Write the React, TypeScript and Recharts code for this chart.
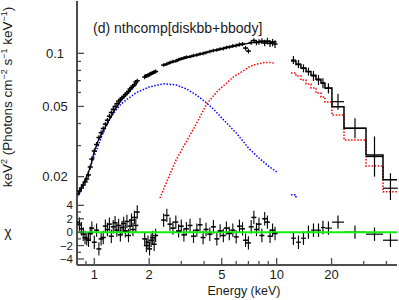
import React from "react";
import { ComposedChart, Line, Scatter, XAxis, YAxis, ErrorBar, ReferenceLine } from "recharts";

const FRAME = "#4d4d4d";
const INK = "#1a1a1a";
const FONT = "'Liberation Sans', Arial, Helvetica, sans-serif";
const W = 399;

// axes
const xDomain = [0.804, 45.7];
const xTicks = [0.9, 1, 2, 3, 4, 5, 6, 7, 8, 9, 10, 20, 30, 40];
const xLabels = [1, 2, 5, 10, 20];
const yDomain = [0.01514, 0.1979];
const yTicks = [0.02, 0.03, 0.04, 0.05, 0.06, 0.07, 0.08, 0.09, 0.1];
const yLabels = [0.02, 0.05, 0.1];
const rDomain = [-4.9, 5.1];
const rTicks = [-4, -3, -2, -1, 0, 1, 2, 3, 4];
const rLabels = [-4, -2, 0, 2, 4];

// XIS spectrum, keV2 (photons cm-2 s-1 keV-1)
const xisEnergy = [
  0.81, 0.83, 0.85, 0.87, 0.89, 0.91, 0.93, 0.95, 0.97, 1.0, 1.03, 1.06, 1.09, 1.12, 1.15, 1.18, 1.21,
  1.24, 1.27, 1.3, 1.33, 1.36, 1.39, 1.42, 1.45, 1.48, 1.51, 1.54, 1.57, 1.6, 1.63, 1.66, 1.69, 1.72,
  1.89, 1.93, 1.97, 2.01, 2.05, 2.09, 2.13, 2.17,
  2.4, 2.5, 2.6, 2.7, 2.8, 2.9, 3.0, 3.1, 3.2, 3.35, 3.5, 3.65, 3.8, 3.95, 4.1, 4.3, 4.5, 4.7, 4.9,
  5.1, 5.3, 5.5, 5.75, 6.0, 6.25, 6.5, 6.75, 7.0, 7.25, 7.5, 7.75, 8.0, 8.3, 8.6, 8.9, 9.2, 9.5, 9.8,
];
const xisFlux = [
  0.01595, 0.01659, 0.01725, 0.01794, 0.01866, 0.0194, 0.02045, 0.02269, 0.02518, 0.02796, 0.03043,
  0.03334, 0.03549, 0.0375, 0.03966, 0.04178, 0.04401, 0.04619, 0.04816, 0.05001, 0.05188, 0.05366,
  0.05479, 0.05588, 0.05706, 0.05834, 0.05949, 0.0609, 0.06276, 0.064, 0.06527, 0.06648, 0.06878, 0.06996,
  0.0734, 0.0744, 0.0749, 0.0759, 0.0769, 0.0774, 0.0784, 0.0789,
  0.0858, 0.087, 0.0887, 0.0899, 0.0905, 0.0922, 0.0934, 0.0941, 0.0953, 0.0959, 0.0972, 0.0978, 0.0991,
  0.0997, 0.101, 0.1024, 0.1037, 0.1044, 0.1058, 0.1065, 0.1079, 0.1086, 0.11, 0.1107, 0.1122, 0.1129,
  0.1071, 0.103, 0.1151, 0.1182, 0.1151, 0.1159, 0.1174, 0.1144, 0.1174, 0.1137, 0.1151, 0.1129,
];
const xisFluxErr = [
  0.0006, 0.0006, 0.0006, 0.0006, 0.0006, 0.0007, 0.0007, 0.0007, 0.0008, 0.0009, 0.001, 0.001,
  0.0011, 0.0011, 0.0012, 0.0012, 0.0013, 0.0013, 0.0014, 0.0014, 0.0014, 0.0015, 0.0015, 0.0015,
  0.0015, 0.0016, 0.0016, 0.0016, 0.0017, 0.0017, 0.0017, 0.0018, 0.0018, 0.0018,
  0.002, 0.002, 0.002, 0.002, 0.002, 0.002, 0.002, 0.002,
  0.002, 0.002, 0.002, 0.002, 0.002, 0.002, 0.002, 0.002, 0.002, 0.002, 0.0022, 0.0022, 0.0022, 0.0022,
  0.0022, 0.0024, 0.0024, 0.0024, 0.0024, 0.0026, 0.0026, 0.0026, 0.0028, 0.0028, 0.003, 0.003, 0.0032,
  0.0032, 0.0034, 0.0036, 0.004, 0.0042, 0.0045, 0.0048, 0.005, 0.0052, 0.0055, 0.0058,
];
const xisResid = [
  1.5, 1.2, 0.5, -0.3, -0.8, -1.0, -1.2, -0.2, 0.6, -1.5, 0.3, -2.5, -1.0, -0.8, 0.9, 0.4, 1.2, -0.6,
  0.8, 1.4, 0.3, 1.0, -0.4, 0.7, 1.3, 0.2, 1.6, -0.5, 0.9, 1.8, 0.4, 2.2, 1.0, 3.0,
  -1.0, -2.0, -1.5, -2.5, -1.2, -0.8, -1.8, -0.5,
  1.8, 2.5, 1.2, 0.6, 1.5, 0.2, 0.9, -0.4, 0.5, 1.0, -0.6, 0.3, 1.1, -0.8, 0.4, -0.3, 0.8, -1.0, 0.2,
  -0.5, 0.6, -0.2, 0.3, -0.7, 0.9, 0.5, -1.2, -1.6, 0.8, 2.2, 0.4, 1.2, -0.5, 2.0, 1.5, -0.6, 0.3, -0.2,
];

// XIS total model (null = ignored band)
const modelEnergy = [
  0.81, 0.85, 0.9, 0.95, 1.0, 1.05, 1.1, 1.2, 1.3, 1.4, 1.5, 1.6, 1.72, 1.8, 1.88, 2.0, 2.19, 2.28,
  2.37, 2.6, 3.0, 3.5, 4.0, 4.5, 5.0, 5.5, 6.0, 6.5, 7.0, 7.5, 8.0, 9.0, 10.0,
];
const modelFlux = [
  0.016, 0.0173, 0.0195, 0.0225, 0.0278, 0.032, 0.0352, 0.0415, 0.048, 0.0538, 0.0585, 0.0625, 0.068,
  null, 0.075, 0.0765, 0.0795, null, 0.0855, 0.088, 0.0925, 0.0965, 0.1005, 0.1035, 0.106, 0.1085,
  0.1105, 0.1125, 0.114, 0.1152, 0.116, 0.1165, 0.116,
];

// diskbb component (blue)
const diskEnergy = [
  0.82, 0.9, 1.0, 1.1, 1.2, 1.3, 1.4, 1.5, 1.7, 2.0, 2.4, 2.8, 3.2, 3.6, 4.0, 4.5, 5.0, 6.0, 7.0, 8.0,
  9.0, 10.0,
];
const diskFlux = [
  0.0157, 0.0195, 0.0262, 0.034, 0.0412, 0.047, 0.0515, 0.0546, 0.0598, 0.0645, 0.0672, 0.0663, 0.0628,
  0.0584, 0.0537, 0.0484, 0.043, 0.0354, 0.0291, 0.0255, 0.023, 0.0213,
];

// bbody component (red)
const bbEnergy = [
  2.29, 2.44, 2.6, 2.81, 3.01, 3.35, 3.72, 4.13, 4.69, 5.1, 5.78, 6.29, 7.14, 7.77, 8.63, 9.19, 9.79,
];
const bbFlux = [
  0.0151, 0.0177, 0.0207, 0.0249, 0.0283, 0.0344, 0.0419, 0.0516, 0.0604, 0.0653, 0.0734, 0.0774,
  0.0842, 0.087, 0.0887, 0.0887, 0.0878,
];

// HXD/PIN + GSO spectrum
const hxdEdges = [11.98, 12.76, 13.59, 14.48, 15.42, 16.43, 17.5, 18.4, 20.1, 23.4, 30.9, 38.3, 46.2];
const hxdEnergy = [12.36, 13.17, 14.03, 14.94, 15.92, 16.96, 17.94, 19.23, 21.69, 26.89, 34.4, 42.07];
const hxdFlux = [0.0916, 0.087, 0.0822, 0.0787, 0.0744, 0.0706, 0.0676, 0.0633, 0.0532, 0.0376, 0.026, 0.0172];
const hxdFluxLo = [0.0047, 0.0045, 0.0042, 0.004, 0.0047, 0.0045, 0.0043, 0.004, 0.0053, 0.0046, 0.006, 0.0031];
const hxdFluxHi = [0.0049, 0.0047, 0.0044, 0.0042, 0.005, 0.0048, 0.0046, 0.0043, 0.0058, 0.0052, 0.0078, 0.0037];
const hxdResid = [-0.9, -1.5, -0.9, 0, 0.3, 0.3, 0.7, 0.6, 1.5, 0, -0.3, -1.2];
const hxdModel = [0.0905, 0.0865, 0.0825, 0.079, 0.075, 0.0712, 0.0678, 0.0635, 0.0498, 0.0376, 0.0265, 0.0192];
const hxdBbody = [0.0774, 0.0744, 0.0706, 0.067, 0.0636, 0.0596, 0.0565, 0.053, 0.0447, 0.0323, 0.023, 0.0164];
const hxdDisk = [0.0158, 0.015];

const xisPoints = xisEnergy.map((e, i) => ({ e, f: xisFlux[i], fe: xisFluxErr[i] }));
const xisRes = xisEnergy.map((e, i) => ({ e, r: xisResid[i], re: 1 }));
const modelLine = modelEnergy.map((e, i) => ({ e, f: modelFlux[i] }));
const diskLine = diskEnergy.map((e, i) => ({ e, f: diskFlux[i] }));
const bbLine = bbEnergy.map((e, i) => ({ e, f: bbFlux[i] }));
const hxdXErr = hxdEnergy.map((e, i) => [e - hxdEdges[i], hxdEdges[i + 1] - e]);
const hxdPoints = hxdEnergy.map((e, i) => ({
  e,
  f: hxdFlux[i],
  fe: [hxdFluxLo[i], hxdFluxHi[i]],
  ee: hxdXErr[i],
}));
const hxdRes = hxdEnergy.map((e, i) => ({ e, r: hxdResid[i], re: 1, ee: hxdXErr[i] }));
const steps = (vals: number[]) =>
  hxdEdges.slice(0, vals.length + 1).map((e, i) => ({ e, f: vals[Math.min(i, vals.length - 1)] }));

const labelStyle = { fontSize: 13, fontFamily: FONT, fill: INK };

const xTick = (side: "top" | "bottom", labelled: boolean) => (p: any) => {
  const v = p.payload.value;
  const big = xLabels.includes(v);
  const len = big ? 7 : 4;
  const d = side === "bottom" ? -len : len;
  return (
    <g>
      <line x1={p.x} x2={p.x} y1={p.y} y2={p.y + d} stroke={FRAME} strokeWidth={1.3} />
      {labelled && big && (
        <text x={p.x} y={p.y + 14} textAnchor="middle" {...labelStyle}>
          {v}
        </text>
      )}
    </g>
  );
};

const yTick =
  (side: "left" | "right", labels: number[], labelX: number | null, anchor: "middle" | "end", size = 13) =>
  (p: any) => {
    const v = p.payload.value;
    const big = labels.includes(v);
    const len = big ? 7 : 4;
    const d = side === "left" ? len : -len;
    return (
      <g>
        <line x1={p.x} x2={p.x + d} y1={p.y} y2={p.y} stroke={FRAME} strokeWidth={1.3} />
        {labelX !== null && big && (
          <text x={labelX} y={p.y + size * 0.35} textAnchor={anchor} {...labelStyle} fontSize={size}>
            {v < 0 ? `\u2212${-v}` : String(v)}
          </text>
        )}
      </g>
    );
  };

const axisLine = { stroke: FRAME, strokeWidth: 2 };
const bar = (p: any) => <path d={`M${p.cx - 2.5},${p.cy}H${p.cx + 2.5}`} stroke="#000" strokeWidth={1.5} />;
const none = () => <g />;
const dotted = { strokeWidth: 1.5, strokeDasharray: "1.5 1.6", dot: false, isAnimationActive: false };

export default function App() {
  return (
    <div style={{ position: "relative", width: W, height: 300, background: "#fff", overflow: "hidden" }}>
      <style>{`body{margin:0}`}</style>
      <div style={{ position: "absolute", left: 0, top: 0 }}>
        <ComposedChart width={W} height={200} margin={{ top: 1, right: 2, bottom: 2, left: 0 }}>
          <XAxis
            dataKey="e"
            type="number"
            scale="log"
            domain={xDomain}
            allowDataOverflow
            ticks={xTicks}
            interval={0}
            height={0}
            tickSize={0}
            tickMargin={0}
            tickLine={false}
            axisLine={axisLine}
            tick={xTick("bottom", false)}
          />
          <XAxis
            xAxisId="top"
            orientation="top"
            type="number"
            scale="log"
            domain={xDomain}
            allowDataOverflow
            ticks={xTicks}
            interval={0}
            height={0}
            tickSize={0}
            tickMargin={0}
            tickLine={false}
            axisLine={axisLine}
            tick={xTick("top", false)}
          />
          <YAxis
            dataKey="f"
            type="number"
            scale="log"
            domain={yDomain}
            allowDataOverflow
            ticks={yTicks}
            interval={0}
            width={77}
            tickSize={0}
            tickMargin={0}
            tickLine={false}
            axisLine={axisLine}
            tick={yTick("left", yLabels, 55, "middle")}
          />
          <YAxis
            yAxisId="right"
            orientation="right"
            type="number"
            scale="log"
            domain={yDomain}
            allowDataOverflow
            ticks={yTicks}
            interval={0}
            width={0}
            tickSize={0}
            tickMargin={0}
            tickLine={false}
            axisLine={axisLine}
            tick={yTick("right", yLabels, null, "middle")}
          />
          <Line data={diskLine} dataKey="f" stroke="#0000ff" {...dotted} />
          <Line data={bbLine} dataKey="f" stroke="#ff0000" {...dotted} />
          <Line data={steps(hxdDisk)} dataKey="f" type="stepAfter" stroke="#0000ff" {...dotted} />
          <Line data={steps(hxdBbody)} dataKey="f" type="stepAfter" stroke="#ff0000" {...dotted} />
          <Line data={modelLine} dataKey="f" stroke="#000" strokeWidth={1.3} dot={false} isAnimationActive={false} />
          <Line data={steps(hxdModel)} dataKey="f" type="stepAfter" stroke="#000" strokeWidth={1.5} dot={false} isAnimationActive={false} />
          <Scatter data={xisPoints} shape={bar} isAnimationActive={false}>
            <ErrorBar dataKey="fe" direction="y" width={0} stroke="#000" strokeWidth={1.2} isAnimationActive={false} />
          </Scatter>
          <Scatter data={hxdPoints} shape={none} isAnimationActive={false}>
            <ErrorBar dataKey="fe" direction="y" width={0} stroke="#000" strokeWidth={1.2} isAnimationActive={false} />
            <ErrorBar dataKey="ee" direction="x" width={0} stroke="#000" strokeWidth={1.2} isAnimationActive={false} />
          </Scatter>
        </ComposedChart>
      </div>

      <div style={{ position: "absolute", left: 0, top: 197 }}>
        <ComposedChart width={W} height={103} margin={{ top: 1, right: 2, bottom: 0, left: 0 }}>
          <XAxis
            dataKey="e"
            type="number"
            scale="log"
            domain={xDomain}
            allowDataOverflow
            ticks={xTicks}
            interval={0}
            height={35}
            tickSize={0}
            tickMargin={0}
            tickLine={false}
            axisLine={axisLine}
            tick={xTick("bottom", true)}
          />
          <XAxis
            xAxisId="top"
            orientation="top"
            type="number"
            scale="log"
            domain={xDomain}
            allowDataOverflow
            ticks={xTicks}
            interval={0}
            height={0}
            tickSize={0}
            tickMargin={0}
            tickLine={false}
            axisLine={axisLine}
            tick={xTick("top", false)}
          />
          <YAxis
            dataKey="r"
            type="number"
            domain={rDomain}
            allowDataOverflow
            ticks={rTicks}
            interval={0}
            width={77}
            tickSize={0}
            tickMargin={0}
            tickLine={false}
            axisLine={axisLine}
            tick={yTick("left", rLabels, 73, "end", 11.5)}
          />
          <YAxis
            yAxisId="right"
            orientation="right"
            type="number"
            domain={rDomain}
            allowDataOverflow
            ticks={rTicks}
            interval={0}
            width={0}
            tickSize={0}
            tickMargin={0}
            tickLine={false}
            axisLine={axisLine}
            tick={yTick("right", rLabels, null, "end")}
          />
          <Scatter data={xisRes} shape={bar} isAnimationActive={false}>
            <ErrorBar dataKey="re" direction="y" width={0} stroke="#000" strokeWidth={1.1} isAnimationActive={false} />
          </Scatter>
          <Scatter data={hxdRes} shape={none} isAnimationActive={false}>
            <ErrorBar dataKey="re" direction="y" width={0} stroke="#000" strokeWidth={1.2} isAnimationActive={false} />
            <ErrorBar dataKey="ee" direction="x" width={0} stroke="#000" strokeWidth={1.2} isAnimationActive={false} />
          </Scatter>
          <ReferenceLine y={0} stroke="#11ee11" strokeWidth={2} />
        </ComposedChart>
      </div>

      <div
        style={{
          position: "absolute",
          left: 93,
          top: 21,
          fontFamily: FONT,
          fontSize: 14,
          lineHeight: "14px",
          color: INK,
          whiteSpace: "nowrap",
        }}
      >
        (d) nthcomp[diskbb+bbody]
      </div>
      <div
        style={{
          position: "absolute",
          left: 8,
          top: 97,
          transform: "translate(-50%, -50%) rotate(-90deg)",
          fontFamily: FONT,
          fontSize: 13.5,
          lineHeight: "14px",
          color: INK,
          whiteSpace: "nowrap",
        }}
      >
        keV<sup style={{ fontSize: 9, lineHeight: 0 }}>2</sup> (Photons cm
        <sup style={{ fontSize: 9, lineHeight: 0 }}>{"\u22122"}</sup> s
        <sup style={{ fontSize: 9, lineHeight: 0 }}>{"\u22121"}</sup> keV
        <sup style={{ fontSize: 9, lineHeight: 0 }}>{"\u22121"}</sup>)
      </div>
      <div
        style={{
          position: "absolute",
          left: 8,
          top: 232,
          transform: "translate(-50%, -50%)",
          fontFamily: FONT,
          fontSize: 14,
          lineHeight: "14px",
          color: INK,
        }}
      >
        χ
      </div>
      <div
        style={{
          position: "absolute",
          left: 244,
          top: 284,
          transform: "translateX(-50%)",
          fontFamily: FONT,
          fontSize: 12.5,
          lineHeight: "14px",
          color: INK,
          whiteSpace: "nowrap",
        }}
      >
        Energy (keV)
      </div>
    </div>
  );
}
